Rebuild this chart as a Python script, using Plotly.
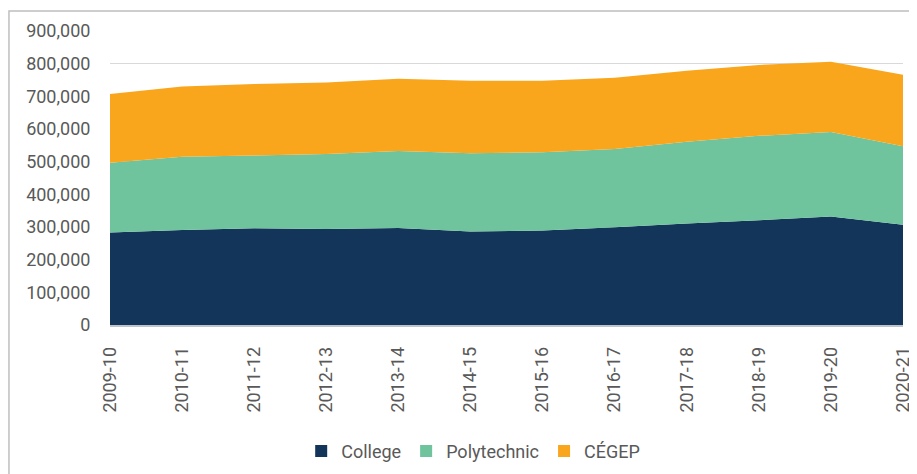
import plotly.graph_objects as go

years = ["2009-10", "2010-11", "2011-12", "2012-13", "2013-14", "2014-15",
         "2015-16", "2016-17", "2017-18", "2018-19", "2019-20", "2020-21"]
college = [283000, 291000, 296000, 294000, 297000, 286000,
           289000, 299000, 311000, 321000, 332000, 307000]
polytechnic = [214000, 224000, 223000, 229500, 236000, 239500,
               239600, 240000, 250000, 258000, 259000, 240000]
cegep = [210000, 215000, 219000, 218500, 221000, 222500,
         219400, 218000, 217500, 217000, 215000, 219000]

series = [("College", college, "#13355A"),
          ("Polytechnic", polytechnic, "#6FC39D"),
          ("CÉGEP", cegep, "#F9A61D")]

fig = go.Figure()
for name, vals, col in series:
    fig.add_trace(go.Scatter(
        x=years, y=vals, name=name, stackgroup="one", mode="none",
        fillcolor=col, line=dict(width=0), showlegend=False,
        hovertemplate="%{x}: %{y:,}<extra>" + name + "</extra>"))
for name, vals, col in series:
    fig.add_trace(go.Scatter(
        x=[None], y=[None], name=name, mode="markers",
        marker=dict(symbol="square", size=12, color=col), showlegend=True))

font_color = "#595959"
# the page body adds an 8px offset, so the figure is 8px smaller and margins shifted
fig.update_layout(
    width=909, height=466,
    margin=dict(l=102, r=14, t=23, b=149, autoexpand=False),
    paper_bgcolor="white", plot_bgcolor="white",
    font=dict(family="Roboto", size=18, color=font_color),
    showlegend=True,
    legend=dict(orientation="h", x=0.458, xanchor="center", y=-0.43, yanchor="middle",
                font=dict(size=18, color=font_color), itemwidth=30,
                traceorder="normal", tracegroupgap=0),
    xaxis=dict(type="category", range=[0, len(years) - 1], showgrid=False,
               automargin=False,
               tickangle=-90, ticks="outside", ticklen=13, tickcolor="rgba(0,0,0,0)",
               showline=True, linecolor="#BFC3CC", linewidth=1.5,
               tickfont=dict(size=18, color=font_color)),
    yaxis=dict(range=[0, 900000], dtick=100000, tickformat=",", showgrid=True,
               automargin=False,
               gridcolor="#D9D9D9", gridwidth=1, zeroline=False, showline=False,
               ticks="outside", ticklen=15, tickcolor="rgba(0,0,0,0)",
               tickfont=dict(size=18, color=font_color)),
    shapes=[dict(type="rect", xref="paper", yref="paper",
                 x0=-0.1274, x1=1.05, y0=-0.6, y1=1.068,
                 line=dict(color="#BFBFBF", width=1.5), fillcolor="rgba(0,0,0,0)",
                 layer="below")],
)

fig.write_html("out.html")
